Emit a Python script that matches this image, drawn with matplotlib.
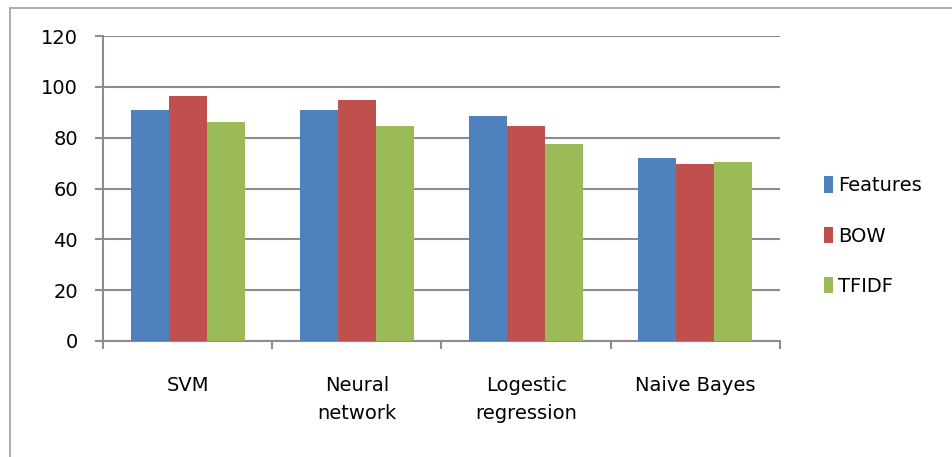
import matplotlib
matplotlib.use('Agg')
import matplotlib.pyplot as plt
from matplotlib.lines import Line2D
import numpy as np

# Data
categories = ['SVM', 'Neural\nnetwork', 'Logestic\nregression', 'Naive Bayes']
series_names = ['Features', 'BOW', 'TFIDF']
features = [91.0, 91.0, 88.7, 72.1]
bow = [96.5, 95.0, 84.7, 69.8]
tfidf = [86.3, 84.7, 77.6, 70.6]
y_ticks = [0, 20, 40, 60, 80, 100, 120]

colors = ['#4F81BD', '#C0504D', '#9BBB59']
grid_color = '#8C8C8C'

plt.rcParams['font.family'] = ['DejaVu Sans']

fig = plt.figure(figsize=(9.53, 4.57), dpi=100)
ax = fig.add_axes([103 / 953, 1 - 341 / 457, (780 - 103) / 953, (341 - 36) / 457])

# Chart area border (extends past the picture at right and bottom)
fig.add_artist(Line2D([10 / 953, 10 / 953], [0, 1 - 8 / 457], transform=fig.transFigure,
                      color='#A6A6A6', lw=1.3))
fig.add_artist(Line2D([10 / 953, 1], [1 - 8 / 457, 1 - 8 / 457], transform=fig.transFigure,
                      color='#A6A6A6', lw=1.3))

x = np.arange(len(categories))
width = 0.225
for i, (vals, name) in enumerate(zip([features, bow, tfidf], series_names)):
    ax.bar(x + (i - 1) * width, vals, width, color=colors[i], label=name, zorder=3)

ax.set_xlim(-0.5, len(categories) - 0.5)
ax.set_ylim(0, 120)
ax.set_yticks(y_ticks)
ax.yaxis.grid(True, color=grid_color, lw=1.5, zorder=0)
ax.set_axisbelow(True)

# Category boundary ticks, labels at centres
ax.set_xticks(np.arange(len(categories) + 1) - 0.5)
ax.set_xticklabels([])
ax.set_xticks(x, minor=True)
ax.set_xticklabels(categories, minor=True, fontsize=14, linespacing=1.65, va='top')
ax.tick_params(axis='x', which='minor', length=0, pad=25)
ax.tick_params(axis='x', which='major', length=6, width=1.5, color=grid_color, direction='out')
ax.tick_params(axis='y', length=6, width=1.5, color=grid_color, labelsize=14, pad=12)

for s in ['top', 'right']:
    ax.spines[s].set_visible(False)
ax.spines['left'].set_color(grid_color)
ax.spines['left'].set_linewidth(1.5)
ax.spines['bottom'].set_color(grid_color)
ax.spines['bottom'].set_linewidth(1.5)

ax.legend(loc='center left', bbox_to_anchor=(1.053, 0.344), frameon=False, fontsize=14,
          handlelength=0.5, handleheight=0.95, handletextpad=0.25, labelspacing=1.6,
          borderaxespad=0)

fig.savefig('out.png', dpi=100)
